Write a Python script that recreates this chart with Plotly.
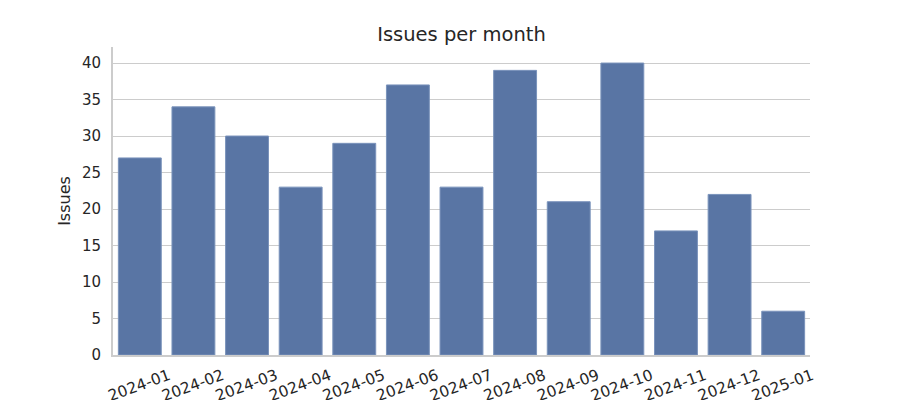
import plotly.graph_objects as go

months = ["2024-01", "2024-02", "2024-03", "2024-04", "2024-05", "2024-06", "2024-07",
          "2024-08", "2024-09", "2024-10", "2024-11", "2024-12", "2025-01"]
issues = [27, 34, 30, 23, 29, 37, 23, 39, 21, 40, 17, 22, 6]
y_ticks = [0, 5, 10, 15, 20, 25, 30, 35, 40]

fig = go.Figure(go.Bar(
    x=months, y=issues,
    marker=dict(color="#5975a4", line=dict(color="#7a93bb", width=1)),
    width=0.8,
))

font = "DejaVu Sans, Liberation Sans, sans-serif"
fig.update_layout(
    width=900, height=400,
    margin=dict(l=113, r=90, t=47, b=45),
    paper_bgcolor="white", plot_bgcolor="white",
    font=dict(family=font, color="#262626", size=15),
    title=dict(text="Issues per month", x=0.5, xanchor="center",
               xref="paper", y=1 - 34 / 400, yref="container", yanchor="middle",
               font=dict(size=19.5, color="#262626")),
    showlegend=False,
)
fig.update_xaxes(
    type="category", range=[-0.5, 12.5], tickangle=-20, automargin=False,
    showline=True, linecolor="#cccccc", linewidth=2, showgrid=False,
    ticks="", tickfont=dict(size=15.5), zeroline=False,
    ticklabelshift=29, ticklabelstandoff=4,
)
fig.update_yaxes(
    range=[0, 42.2], tickvals=y_ticks, automargin=False,
    showline=True, linecolor="#cccccc", linewidth=2,
    showgrid=True, gridcolor="#cccccc", gridwidth=1,
    ticks="", tickfont=dict(size=15), zeroline=False, ticklabelstandoff=7,
    title=dict(text="Issues", font=dict(size=16), standoff=7),
)
fig.write_html("out.html", config={"displayModeBar": False},
               post_script="document.body.style.margin='0';")
